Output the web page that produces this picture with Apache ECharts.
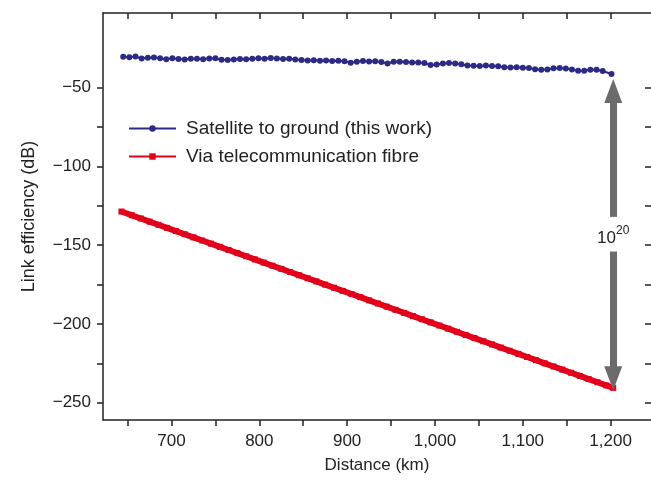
<!DOCTYPE html>
<html>
<head>
<meta charset="utf-8">
<script src="https://cdn.jsdelivr.net/npm/echarts@6/dist/echarts.min.js"></script>
<style>
  html, body { margin: 0; padding: 0; background: #fff; }
  #chart { width: 651px; height: 481px; }
</style>
</head>
<body>
<div id="chart"></div>
<script>
// satellite to ground link
const satDist = [645, 652, 659, 666, 673, 680, 687, 694, 701, 708, 715, 722, 729, 736, 743, 750, 757, 764, 771, 778,
  785, 792, 799, 806, 813, 820, 827, 834, 841, 848, 855, 862, 869, 876, 883, 890, 897, 904, 911, 918,
  925, 932, 939, 946, 953, 960, 967, 974, 981, 988, 995, 1002, 1009, 1016, 1023, 1030, 1037, 1044, 1051, 1058,
  1065, 1072, 1079, 1086, 1093, 1100, 1107, 1114, 1121, 1128, 1135, 1142, 1149, 1156, 1163, 1170, 1177, 1184, 1191, 1201];
const satEff = [-30.3, -30.6, -30.2, -31.4, -30.9, -30.8, -31.3, -31.9, -31.2, -31.7, -32.0, -31.5, -31.6, -31.9, -31.4, -31.2, -32.2, -32.4, -32.0, -31.7,
  -31.9, -31.5, -31.3, -31.6, -31.1, -31.4, -31.7, -31.6, -32.0, -32.3, -32.6, -32.5, -32.8, -32.7, -33.0, -32.9, -33.2, -34.1, -33.4, -33.0,
  -33.3, -33.2, -33.6, -34.6, -33.5, -33.4, -33.6, -33.9, -34.0, -34.3, -35.6, -35.2, -34.6, -34.2, -34.5, -35.0, -35.8, -36.0, -36.1, -35.9,
  -36.1, -36.3, -37.0, -37.1, -36.9, -37.2, -37.5, -38.2, -38.6, -38.4, -37.6, -37.4, -37.7, -38.4, -39.2, -39.1, -38.6, -38.5, -39.3, -41.2];

// via telecommunication fibre
const fibreDist = [643, 655, 665, 675, 685, 695, 705, 715, 725, 735, 745, 755, 765, 775, 785, 795, 805, 815, 825, 835,
  845, 855, 865, 875, 885, 895, 905, 915, 925, 935, 945, 955, 965, 975, 985, 995, 1005, 1015, 1025, 1035,
  1045, 1055, 1065, 1075, 1085, 1095, 1105, 1115, 1125, 1135, 1145, 1155, 1165, 1175, 1185, 1195, 1203];
const fibreEff = [-128.6, -131, -133, -135, -137, -139, -141, -143, -145, -147, -149, -151, -153, -155, -157, -159, -161, -163, -165, -167,
  -169, -171, -173, -175, -177, -179, -181, -183, -185, -187, -189, -191, -193, -195, -197, -199, -201, -203, -205, -207,
  -209, -211, -213, -215, -217, -219, -221, -223, -225, -227, -229, -231, -233, -235, -237, -239, -240.6];

const xTicks = [650, 700, 750, 800, 850, 900, 950, 1000, 1050, 1100, 1150, 1200];
const xLabels = [700, 800, 900, 1000, 1100, 1200];
const yTicks = [-50, -75, -100, -125, -150, -175, -200, -225, -250];
const yLabels = [-50, -100, -150, -200, -250];

let myChart = echarts.init(document.getElementById('chart'));
const font = '"Liberation Sans", Arial, sans-serif';
const ink = '#222';

function xAx(pos) {
  return {
    type: 'value', position: pos, min: 622, max: 1246,
    axisLine: { show: true, onZero: false, lineStyle: { color: ink, width: 1.5 } },
    axisTick: { show: true, inside: pos === 'top', length: 6, customValues: xTicks, lineStyle: { color: ink, width: 1.5 } },
    axisLabel: {
      show: pos === 'bottom', customValues: xLabels, margin: 13,
      fontFamily: font, fontSize: 17, color: ink,
      formatter: v => v.toLocaleString('en-US')
    },
    splitLine: { show: false },
    name: pos === 'bottom' ? 'Distance (km)' : '',
    nameLocation: 'middle', nameGap: 37,
    nameTextStyle: { fontFamily: font, fontSize: 17, color: ink }
  };
}
function yAx(pos) {
  return {
    type: 'value', position: pos, min: -261, max: -2.5,
    // the right frame line sits just outside the picture, only its ticks show
    axisLine: { show: pos === 'left', onZero: false, lineStyle: { color: ink, width: 1.5 } },
    axisTick: { show: true, inside: pos === 'right', length: 6, customValues: yTicks, lineStyle: { color: ink, width: 1.5 } },
    axisLabel: {
      show: pos === 'left', customValues: yLabels, margin: 12,
      fontFamily: font, fontSize: 17, color: ink,
      formatter: v => String(v).replace('-', '\u2212')
    },
    splitLine: { show: false },
    name: pos === 'left' ? 'Link efficiency (dB)' : '',
    nameLocation: 'middle', nameGap: 65,
    nameTextStyle: { fontFamily: font, fontSize: 18, color: ink }
  };
}

myChart.setOption({
  animation: false,
  backgroundColor: '#fff',
  grid: { left: 103, right: -4, top: 13, bottom: 61 },
  legend: {
    left: 123, top: 114, orient: 'vertical',
    itemWidth: 47, itemHeight: 8, itemGap: 9,
    lineStyle: { width: 2 },
    textStyle: { fontFamily: font, fontSize: 19, color: ink, padding: [0, 0, 0, 5] },
    data: ['Satellite to ground (this work)', 'Via telecommunication fibre']
  },
  xAxis: [xAx('bottom'), xAx('top')],
  yAxis: [yAx('left'), yAx('right')],
  series: [
    {
      name: 'Satellite to ground (this work)', type: 'line',
      data: satDist.map((d, i) => [d, satEff[i]]),
      symbol: 'circle', symbolSize: 6, color: '#2d2a86',
      lineStyle: { width: 2 },
      markLine: {
        silent: true, animation: false,
        symbol: ['none', 'triangle'], symbolSize: [18, 24],
        lineStyle: { color: '#6b6b6b', width: 7, type: 'solid' },
        itemStyle: { color: '#6b6b6b' },
        label: { show: false },
        data: [
          [{ coord: [1203, -132] }, { coord: [1203, -52] }],
          [{ coord: [1203, -154] }, { coord: [1203, -234.5] }]
        ]
      }
    },
    {
      name: 'Via telecommunication fibre', type: 'line',
      data: fibreDist.map((d, i) => [d, fibreEff[i]]),
      symbol: 'rect', symbolSize: 6, color: '#e2001a',
      lineStyle: { width: 6 },
      z: 3,
      markPoint: {
        silent: true, symbol: 'rect', symbolSize: 1,
        itemStyle: { color: 'rgba(0,0,0,0)' },
        label: {
          show: true, position: 'inside',
          formatter: '{b|10}{s|20}',
          rich: {
            b: { fontFamily: font, fontSize: 17, color: ink, lineHeight: 22, verticalAlign: 'bottom' },
            s: { fontFamily: font, fontSize: 12, color: ink, lineHeight: 22, verticalAlign: 'top' }
          }
        },
        data: [{ coord: [1203, -144] }]
      }
    }
  ]
});
</script>
</body>
</html>
